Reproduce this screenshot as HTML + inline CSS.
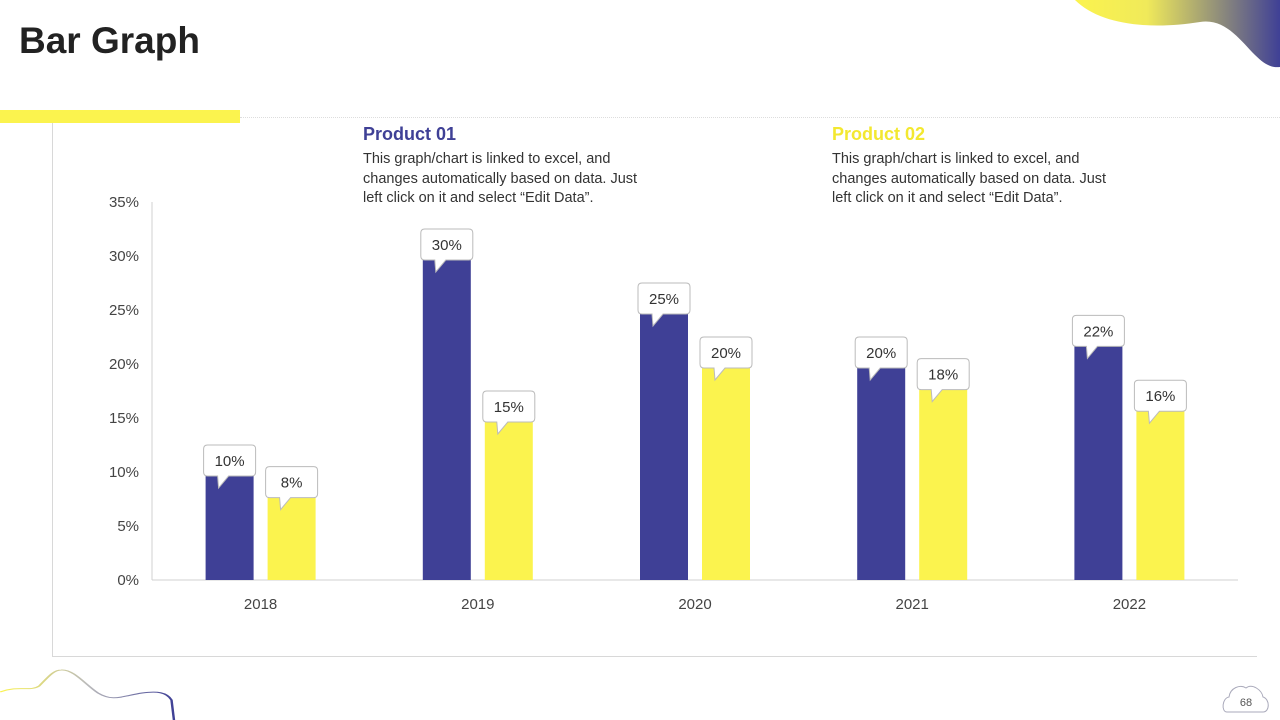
<!DOCTYPE html>
<html><head><meta charset="utf-8"><style>
body{margin:0;width:1280px;height:720px;overflow:hidden;background:#fff;font-family:"Liberation Sans",Arial,sans-serif;position:relative}
.t{position:absolute}
.desc{font-size:14.5px;color:#333;line-height:19.5px;width:340px;white-space:nowrap}
</style></head><body>
<div class="t" style="left:19px;top:20px;font-size:37px;font-weight:bold;color:#222">Bar Graph</div>
<div class="t" style="left:0;top:110px;width:240px;height:13px;background:#fbf34e"></div>
<div class="t" style="left:240px;top:117px;width:1040px;border-top:1px dotted #ddd"></div>
<div class="t" style="left:52px;top:123px;height:533px;border-left:1px solid #d8d8d8"></div>
<div class="t" style="left:52px;top:656px;width:1205px;border-top:1px solid #d8d8d8"></div>
<div class="t" style="left:363px;top:124px;font-size:18px;font-weight:bold;color:#3f4096">Product 01</div>
<div class="t desc" style="left:363px;top:150px">This graph/chart is linked to excel, and<br>changes automatically based on data. Just<br>left click on it and select “Edit Data”.</div>
<div class="t" style="left:832px;top:124px;font-size:18px;font-weight:bold;color:#f3e830">Product 02</div>
<div class="t desc" style="left:832px;top:150px">This graph/chart is linked to excel, and<br>changes automatically based on data. Just<br>left click on it and select “Edit Data”.</div>
<svg class="t" style="left:0;top:0" width="1280" height="720">
<defs><linearGradient id="g" x1="0" x2="1"><stop offset="0" stop-color="#fbf34e"/><stop offset="0.35" stop-color="#f0ea5a"/><stop offset="1" stop-color="#3f4096"/></linearGradient>
<linearGradient id="g2" x1="0" x2="1"><stop offset="0" stop-color="#fbf34e"/><stop offset="0.5" stop-color="#bbb"/><stop offset="1" stop-color="#3f4096"/></linearGradient></defs>
<path d="M1075,0 C1100,25 1150,30 1200,22 C1225,18 1240,40 1255,55 C1265,65 1272,68 1280,67 L1280,0 Z" fill="url(#g)"/>
<path d="M0,692 C8,685 12,692 16,686 C20,676 22,670 25,670 C30,669 35,685 40,693 C46,702 50,696 58,693 C64,691 68,692 70,700 L71,720" fill="none" stroke="url(#g2)" stroke-width="1" transform="scale(2.45,1)"/>
<path d="M1227,712 C1221,712 1222,698 1229,697 C1230,688 1240,684 1246,688 C1252,683 1262,690 1263,697 C1270,699 1270,712 1263,712 Z" fill="#fff" stroke="#aab" stroke-width="1"/>
<text x="1246" y="706" font-size="11" fill="#555" text-anchor="middle" font-family="Liberation Sans">68</text>
</svg>
<svg class="t" style="left:0;top:0" width="1280" height="720" id="chart"></svg>
<script>
const categories=["2018","2019","2020","2021","2022"];
const product1=[10,30,25,20,22];
const product2=[8,15,20,18,16];
const ticks=[0,5,10,15,20,25,30,35];
const svg=document.getElementById('chart');
const NS="http://www.w3.org/2000/svg";
const x0=152,x1=1238,y0=580,yTop=202,maxV=35;
const y=v=>y0-(v/maxV)*(y0-yTop);
const band=(x1-x0)/categories.length;
const xc=i=>x0+band*(i+0.5);
function mk(tag,attrs,txt){const e=document.createElementNS(NS,tag);for(const k in attrs)e.setAttribute(k,attrs[k]);if(txt!=null)e.textContent=txt;svg.appendChild(e);return e;}
let e=mk('line',{x1:x0,x2:x0,y1:yTop,y2:y0,stroke:'#d0d0d0'});


e=mk('line',{x1:x0,x2:x1,y1:y0,y2:y0,stroke:'#d0d0d0'});


ticks.forEach(t=>{const el=mk('text',{x:139,y:y(t)+5,'font-size':15,fill:'#444','text-anchor':'end','font-family':'Liberation Sans'},t+'%');

});
function bar(i,v,dx,color,name){
 const cx=xc(i)+dx,w=48,top=y(v);
 const r=mk('rect',{x:cx-w/2,y:top,width:w,height:y0-top,fill:color});
 
 
 const bw=52,bh=31,bx=cx-bw/2,by=top-bh+4;
 const p=mk('path',{d:`M${bx+4},${by} H${bx+bw-4} Q${bx+bw},${by} ${bx+bw},${by+4} V${by+bh-4} Q${bx+bw},${by+bh} ${bx+bw-4},${by+bh} H${cx-1} L${cx-11},${by+bh+12} L${cx-12},${by+bh} H${bx+4} Q${bx},${by+bh} ${bx},${by+bh-4} V${by+4} Q${bx},${by} ${bx+4},${by} Z`,fill:'#fff',stroke:'#bbb','stroke-width':1});
 
 
 const t=mk('text',{x:cx,y:by+21,'font-size':15,fill:'#333','text-anchor':'middle','font-family':'Liberation Sans'},v+'%');
 
 
}
categories.forEach((c,i)=>{
 bar(i,product1[i],-31,'#3f4096','product-01');
 bar(i,product2[i],31,'#fbf34e','product-02');
 const t=mk('text',{x:xc(i),y:609,'font-size':15,fill:'#444','text-anchor':'middle','font-family':'Liberation Sans'},c);
 
 
});
</script>
</body></html>
